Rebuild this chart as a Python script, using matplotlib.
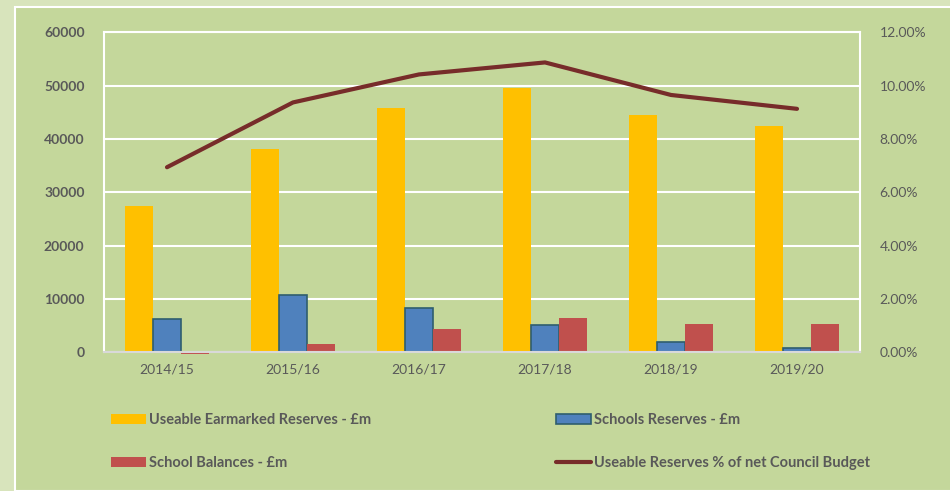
import numpy as np
import matplotlib
matplotlib.use("Agg")
import matplotlib.pyplot as plt
from matplotlib.patches import Rectangle
from matplotlib.ticker import FuncFormatter

# data
years = ['2014/15', '2015/16', '2016/17', '2017/18', '2018/19', '2019/20']
earmarked = [27500, 38100, 45800, 49500, 44500, 42500]
schools_res = [6300, 10800, 8400, 5100, 1900, 800]
school_bal = [-400, 1600, 4400, 6400, 5300, 5300]
pct_budget = [6.94, 9.37, 10.42, 10.87, 9.65, 9.13]

yticks_left = [0, 10000, 20000, 30000, 40000, 50000, 60000]
yticks_right = [0, 2, 4, 6, 8, 10, 12]

plt.rcParams['font.family'] = ['Lato', 'DejaVu Sans']
TXT = '#595959'
BG_OUT = '#D8E4BC'
BG_IN = '#C4D79B'

fig = plt.figure(figsize=(9.5, 4.91), dpi=100, facecolor=BG_OUT)
W, H = 950, 491
fig.patches.append(Rectangle((15 / W, 0), 1, 1 - 7 / H, transform=fig.transFigure,
                             facecolor=BG_IN, edgecolor='white', linewidth=1.5, zorder=-1))

ax = fig.add_axes([104 / W, 1 - 352.3 / H, 756 / W, 320 / H])
ax.set_facecolor('none')
x = np.arange(len(years))
bw = 0.222
ax.bar(x - bw, earmarked, bw, color='#FFC000', zorder=3, label='Useable Earmarked Reserves - £m')
ax.bar(x, schools_res, bw, color='#4F81BD', edgecolor='#2F5E6E', linewidth=1.2, zorder=3,
       label='Schools Reserves - £m')
bal = ax.bar(x + bw, school_bal, bw, color='#C0504D', zorder=3, label='School Balances - £m')
for b in bal:
    b.set_clip_on(False)  # 2014/15 is slightly negative, drawn under the axis

ax.set_xlim(-0.5, len(years) - 0.5)
ax.set_ylim(0, 60000)
ax.set_yticks(yticks_left)
ax.set_xticks(x)
ax.set_xticklabels(years)
ax.grid(axis='y', color='white', linewidth=1.5, zorder=1)
ax.tick_params(length=0, colors=TXT, labelsize=10)
ax.tick_params(axis='y', pad=14)
ax.tick_params(axis='x', pad=8)
for lbl in ax.get_yticklabels():
    lbl.set_fontweight('bold')
for s in ['left', 'right', 'top']:
    ax.spines[s].set_color('white')
    ax.spines[s].set_linewidth(1.5)
ax.spines['bottom'].set_color('#D9D9D9')
ax.spines['bottom'].set_linewidth(1.5)
ax.spines['bottom'].set_zorder(4)

ax2 = ax.twinx()
ax2.plot(x, pct_budget, color='#772C2A', linewidth=3, solid_capstyle='round', zorder=5,
         label='Useable Reserves % of net Council Budget')
ax2.set_ylim(0, 12)
ax2.set_yticks(yticks_right)
ax2.yaxis.set_major_formatter(FuncFormatter(lambda v, p: '%.2f%%' % v))
ax2.tick_params(length=0, colors=TXT, labelsize=10, pad=14)
for s in ax2.spines.values():
    s.set_visible(False)

h1, l1 = ax.get_legend_handles_labels()
h2, l2 = ax2.get_legend_handles_labels()
# column-major fill: yellow, red | blue, line
handles = [h1[0], h1[2], h1[1], h2[0]]
labels = [l1[0], l1[2], l1[1], l2[0]]
leg = fig.legend(handles, labels, ncol=2, loc='upper left', bbox_to_anchor=(98 / W, 1 - 400 / H),
                 frameon=False, columnspacing=12.7, handlelength=2.4, handletextpad=0.2,
                 labelspacing=2.0, prop={'size': 10.5, 'weight': 'bold'})
for t in leg.get_texts():
    t.set_color(TXT)

fig.savefig('out.png', dpi=100, facecolor=fig.get_facecolor())
